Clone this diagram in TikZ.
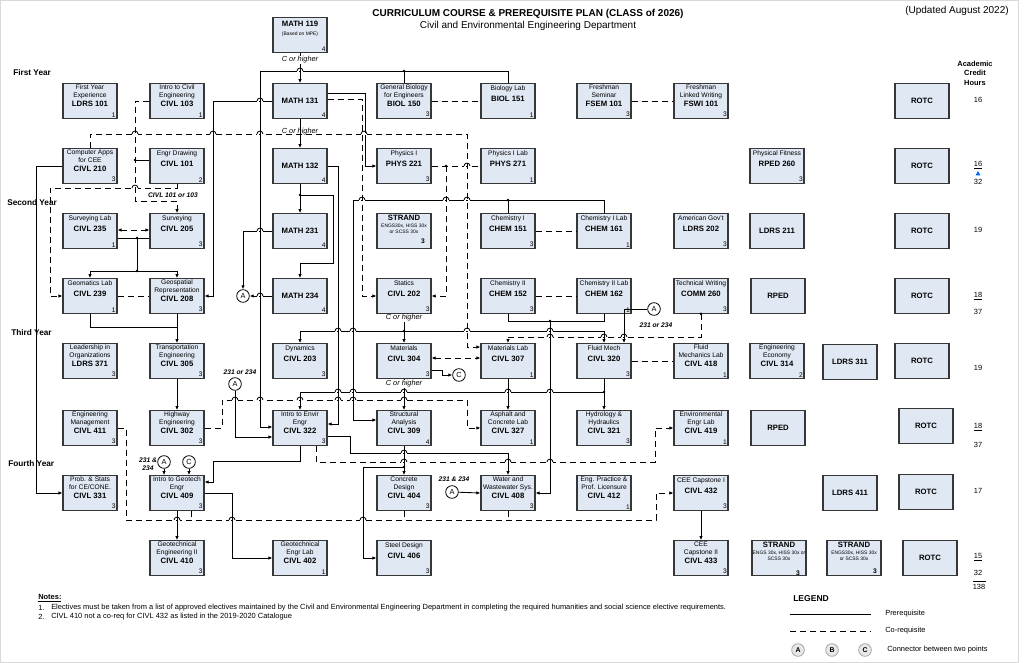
\documentclass[tikz,border=0pt]{standalone}
\usepackage{fontspec}
\setmainfont{Liberation Sans}
\usetikzlibrary{arrows.meta,calc}
\definecolor{boxfill}{RGB}{224,232,243}
\definecolor{boxline}{RGB}{55,55,55}
\newcommand\codef{\bfseries\fontsize{5.8}{6.4}\selectfont}
\newcommand\descf{\fontsize{5}{6.4}\selectfont}
\newcommand\tinyf{\fontsize{3.7}{4.4}\selectfont}
\tikzset{
 box/.style={draw=boxline,fill=boxfill,line width=0.85pt,minimum width=40.5pt,minimum height=26pt,inner sep=0pt},
 txt/.style={align=center,inner sep=0pt,font=\descf},
 cred/.style={anchor=south east,inner sep=1.2pt,font=\fontsize{5}{5}\selectfont},
 pre/.style={line width=0.65pt},
 co/.style={line width=0.65pt,dash pattern=on 4.5pt off 3pt},
 ar/.style={-{Latex[length=3pt,width=2.6pt]}},
 dar/.style={{Latex[length=3pt,width=2.6pt]}-{Latex[length=3pt,width=2.6pt]}},
 cor/.style={font=\itshape\fontsize{5.5}{6}\selectfont,inner sep=0.6pt},
 ornum/.style={font=\bfseries\itshape\fontsize{5}{5.6}\selectfont,inner sep=0.5pt,align=center},
 conn/.style={circle,draw,fill=white,line width=0.6pt,minimum size=9.5pt,inner sep=0pt,font=\fontsize{5.5}{6}\selectfont},
 lconn/.style={circle,draw=gray!70,fill=gray!18,line width=0.6pt,minimum size=9.5pt,inner sep=0pt,font=\bfseries\fontsize{5.2}{6}\selectfont},
 hrs/.style={font=\fontsize{5.6}{6}\selectfont,inner sep=0.5pt},
 yr/.style={font=\bfseries\fontsize{6.2}{7}\selectfont,anchor=west,inner sep=0pt},
 note/.style={font=\fontsize{5.6}{6.5}\selectfont,anchor=west,inner sep=0pt}
}
\newcommand\jdot[1]{\fill (#1) circle (1.1pt);}
% line jump: a horizontal line at y=#2 hops over a vertical line at x=#1
\newcommand\hh[2]{\fill[white] (#1-3.2,#2-1.1) rectangle (#1-0.6,#2+1.1);\fill[white] (#1+0.6,#2-1.1) rectangle (#1+3.2,#2+1.1);\draw[line width=0.6pt] (#1-3,#2) .. controls (#1-3,#2-3.8) and (#1+3,#2-3.8) .. (#1+3,#2);}
\newcommand\crsIII[7]{\node[box] (#1) at (#2,#3) {};\node[txt,anchor=north] at ([yshift=-0.8pt]#1.north) {#4\\#5\\{\codef #6}};\node[cred] at (#1.south east) {#7};}
\newcommand\crsII[6]{\node[box] (#1) at (#2,#3) {};\node[txt,anchor=north] at ([yshift=-1.6pt]#1.north) {#4\\[2.2pt]{\codef #5}};\node[cred] at (#1.south east) {#6};}
\newcommand\crsI[5]{\node[box] (#1) at (#2,#3) {};\node[txt] at (#1.center) {\codef #4};\node[cred] at (#1.south east) {#5};}
\begin{document}
\begin{tikzpicture}[x=0.75pt,y=-0.75pt]
\useasboundingbox (0,0) rectangle (1024,663);
\draw[gray!30,line width=0.6pt] (0.5,0.5) rectangle (1018,662);
% titles
\node[font=\bfseries\fontsize{7.5}{8}\selectfont] at (528,14) {CURRICULUM COURSE \& PREREQUISITE PLAN (CLASS of 2026)};
\node[font=\fontsize{7.5}{8}\selectfont] at (528,26) {Civil and Environmental Engineering Department};
\node[font=\fontsize{7.5}{8}\selectfont] at (957,11) {(Updated August 2022)};
\node[font=\bfseries\fontsize{5.6}{7}\selectfont,align=center] at (975,73) {Academic\\Credit\\Hours};
\node[yr] at (13,73) {First Year};
\node[yr] at (7,203) {Second Year};
\node[yr] at (11,333) {Third Year};
\node[yr] at (8,464) {Fourth Year};
% ---------- coordinates ----------
\coordinate (bar) at (260,71);
\coordinate (jb) at (404,71);
\coordinate (j132) at (300,195);
\coordinate (jch) at (508,200);
\coordinate (jst) at (404,331);
\coordinate (jch2) at (550,321);
\coordinate (j320) at (604,392);
\coordinate (j309) at (404,467);
\coordinate (jsv) at (137,238);
\coordinate (jsv2) at (137,271);
\coordinate (jp) at (446,166);
\coordinate (j101) at (135,160);
% ---------- nodes ----------
\node[box] (m119) at (300,35) {};
\node[txt,anchor=north] at ([yshift=-3pt]m119.north) {{\codef MATH 119}\\[0.2pt]{\tinyf (Based on MPE)}};
\node[cred] at (m119.south east) {4};
% row 1
\crsIII{ldrs101}{90}{101}{First Year}{Experience}{LDRS 101}{1}
\crsIII{c103}{177}{101}{Intro to Civil}{Engineering}{CIVL 103}{1}
\crsI{m131}{300}{101}{MATH 131}{4}
\crsIII{b150}{404}{101}{General Biology}{for Engineers}{BIOL 150}{3}
\crsII{b151}{508}{101}{Biology Lab}{BIOL 151}{1}
\crsIII{fsem}{604}{101}{Freshman}{Seminar}{FSEM 101}{3}
\crsIII{fswi}{701}{101}{Freshman}{Linked Writing}{FSWI 101}{3}
\crsI{rotc1}{922}{101}{ROTC}{}
% row 2
\crsIII{c210}{90}{166}{Computer Apps}{for CEE}{CIVL 210}{3}
\crsII{c101}{177}{166}{Engr Drawing}{CIVL 101}{2}
\crsI{m132}{300}{166}{MATH 132}{4}
\crsII{p221}{404}{166}{Physics I}{PHYS 221}{3}
\crsII{p271}{508}{166}{Physics I Lab}{PHYS 271}{1}
\crsII{rped260}{777}{166}{Physical Fitness}{RPED 260}{3}
\crsI{rotc2}{922}{166}{ROTC}{}
% row 3
\crsII{c235}{90}{231}{Surveying Lab}{CIVL 235}{1}
\crsII{c205}{177}{231}{Surveying}{CIVL 205}{3}
\crsI{m231}{300}{231}{MATH 231}{4}
\node[box] (s1) at (404,231) {};
\node[txt,anchor=north] at ([yshift=-1.2pt]s1.north) {{\codef STRAND}\\[-1.4pt]{\tinyf ENGS30x, HISS 30x}\\[-1.4pt]{\tinyf or SCSS 30x}};
\node[font=\bfseries\fontsize{5}{5}\selectfont] at (423,241) {3};
\crsII{ch151}{508}{231}{Chemistry I}{CHEM 151}{3}
\crsII{ch161}{604}{231}{Chemistry I Lab}{CHEM 161}{1}
\crsII{ldrs202}{701}{231}{American Gov't}{LDRS 202}{3}
\crsI{ldrs211}{777}{231}{LDRS 211}{}
\crsI{rotc3}{922}{231}{ROTC}{}
% row 4
\crsII{c239}{90}{296}{Geomatics Lab}{CIVL 239}{1}
\crsIII{c208}{177}{296}{Geospatial}{Representation}{CIVL 208}{3}
\crsI{m234}{300}{296}{MATH 234}{4}
\crsII{c202}{404}{296}{Statics}{CIVL 202}{3}
\crsII{ch152}{508}{296}{Chemistry II}{CHEM 152}{3}
\crsII{ch162}{604}{296}{Chemistry II Lab}{CHEM 162}{1}
\crsII{comm260}{701}{296}{Technical Writing}{COMM 260}{3}
\crsI{rped4}{778}{296}{RPED}{}
\crsI{rotc4}{922}{296}{ROTC}{}
% row 5
\crsIII{ldrs371}{90}{361}{Leadership in}{Organizations}{LDRS 371}{3}
\crsIII{c305}{177}{361}{Transportation}{Engineering}{CIVL 305}{3}
\crsII{c203}{300}{361}{Dynamics}{CIVL 203}{3}
\crsII{c304}{404}{361}{Materials}{CIVL 304}{3}
\crsII{c307}{508}{361}{Materials Lab}{CIVL 307}{1}
\crsII{c320}{604}{361}{Fluid Mech}{CIVL 320}{3}
\crsIII{c418}{701}{361}{Fluid}{Mechanics Lab}{CIVL 418}{1}
\crsIII{c314}{777}{361}{Engineering}{Economy}{CIVL 314}{2}
\crsI{ldrs311}{850}{362}{LDRS 311}{}
\crsI{rotc5}{922}{361}{ROTC}{}
% row 6
\crsIII{c411}{90}{428}{Engineering}{Management}{CIVL 411}{3}
\crsIII{c302}{177}{428}{Highway}{Engineering}{CIVL 302}{3}
\crsIII{c322}{300}{428}{Intro to Envir}{Engr}{CIVL 322}{3}
\crsIII{c309}{404}{428}{Structural}{Analysis}{CIVL 309}{4}
\crsIII{c327}{508}{428}{Asphalt and}{Concrete Lab}{CIVL 327}{1}
\crsIII{c321}{604}{428}{Hydrology \&}{Hydraulics}{CIVL 321}{3}
\crsIII{c419}{701}{428}{Environmental}{Engr Lab}{CIVL 419}{1}
\crsI{rped6}{778}{428}{RPED}{}
\crsI{rotc6}{926}{426}{ROTC}{}
% row 7
\crsIII{c331}{90}{493}{Prob. \& Stats}{for CE/CONE.}{CIVL 331}{3}
\crsIII{c409}{177}{493}{Intro to Geotech}{Engr}{CIVL 409}{3}
\crsIII{c404}{404}{493}{Concrete}{Design}{CIVL 404}{3}
\crsIII{c408}{508}{493}{Water and}{Wastewater Sys.}{CIVL 408}{3}
\crsIII{c412}{604}{493}{Eng. Practice \&}{Prof. Licensure}{CIVL 412}{1}
\crsII{c432}{701}{493}{CEE Capstone I}{CIVL 432}{3}
\crsI{ldrs411}{850}{493}{LDRS 411}{}
\crsI{rotc7}{926}{492}{ROTC}{}
% row 8
\crsIII{c410}{177}{558}{Geotechnical}{Engineering II}{CIVL 410}{3}
\crsIII{c402}{300}{558}{Geotechnical}{Engr Lab}{CIVL 402}{1}
\crsII{c406}{404}{558}{Steel Design}{CIVL 406}{3}
\crsIII{c433}{701}{558}{CEE}{Capstone II}{CIVL 433}{3}
\node[box] (s2) at (779,558) {};
\node[txt,anchor=north] at ([yshift=-1.2pt]s2.north) {{\codef STRAND}\\[-1.4pt]{\tinyf ENGS 30x, HISS 30x or}\\[-1.4pt]{\tinyf SCSS 30x}};
\node[font=\bfseries\fontsize{5}{5}\selectfont] at (798,573) {3};
\node[box] (s3) at (854,558) {};
\node[txt,anchor=north] at ([yshift=-1.2pt]s3.north) {{\codef STRAND}\\[-1.4pt]{\tinyf ENGS30x, HISS 30x}\\[-1.4pt]{\tinyf or SCSS 30x}};
\node[font=\bfseries\fontsize{5}{5}\selectfont] at (875,571) {3};
\crsI{rotc8}{930}{558}{ROTC}{}
% connector circles
\node[conn] (a1) at (243,296) {A};
\node[conn] (a2) at (654,309) {A};
\node[conn] (cc1) at (459,375) {C};
\node[conn] (a3) at (235,384) {A};
\node[conn] (a4) at (164,462) {A};
\node[conn] (cc2) at (189,462) {C};
\node[conn] (a5) at (452,492) {A};
\node[ornum] at (656,325) {231 or 234};
\node[ornum] at (240,372) {231 or 234};
\node[ornum] at (454,479) {231 \& 234};
\node[ornum] at (148,464) {231 \&\\234};
\node[ornum] at (173,195) {CIVL 101 or 103};
% ---------- prerequisite (solid) ----------
\draw[pre,ar] (m119.south) -- (m131.north);
\node[cor,fill=white] at (300,60) {C or higher};
\draw[pre,ar] (b151.north) |- (bar) |- ($(c322.west)+(0,-1)$);
\draw[pre] (b150.north) -- (jb); \jdot{jb}
\draw[pre,ar] (m131.west) -| (213,296) -- (c208.east);
\draw[pre,ar] (m131) -- (m132);
\draw[pre,ar] ($(m131.east)+(0,-8)$) -| (365,166) -- (p221.west);
\draw[pre,ar] (m132) -- (m231); \jdot{j132}
\draw[pre,ar] (j132) -| (333,263) -| (m234.north);
\draw[pre,ar] (m132.east) -| (338,424) -- ($(c322.east)+(0,-4)$);
\draw[pre] (ch161.north) |- (jch);
\draw[pre] (ch151.north) -- (jch); \jdot{jch}
\draw[pre,ar] (jch) -| (353,420) -- ($(c309.west)+(0,-8)$);
\draw[pre,ar] (m231.west) -| (a1.north);
\draw[pre,ar] (m234.west) -- (a1.east);
\draw[pre,ar] (c202) -- (c304);
\node[cor,fill=white] at (404,318) {C or higher};
\jdot{jst}
\draw[pre,ar] (jst) -| (c203.north);
\draw[pre,ar] (jst) -| (c320.north);
\draw[pre,ar] (a2.west) -| ($(c320.north)+(20,0)$);
\draw[pre,ar] (c320) -- (c321); \jdot{j320}
\draw[pre,ar] (j320) -| (c322.north);
\draw[pre,ar] (c307) -- (c327);
\draw[pre] (ch152.south) |- (jch2);
\draw[pre] (ch162.south) |- (jch2); \jdot{jch2}
\draw[pre,ar] (jch2) |- (c408.east);
\draw[pre,ar] (c304) -- (c309);
\node[cor,fill=white] at (404,384) {C or higher};
\draw[pre,ar] ($(c304.east)+(0,9)$) -| (442,375) -- (cc1.west);
\draw[pre,ar] ($(c322.east)+(0,8)$) -| (350,453) -| (c408.north);
\draw[pre,ar] (c322.south) |- (213,461) |- ($(c409.east)+(0,-11)$);
\draw[pre,ar] (c409.east) -| (232,558) -- (c402.west);
\draw[pre,ar] (c409) -- (c410);
\draw[pre,ar] (a4.south) -- (a4.south |- c409.north);
\draw[pre,ar] (cc2.south) -- (cc2.south |- c409.north);
\draw[pre,ar] (a3.south) |- ($(c322.west)+(0,9)$);
\draw[pre,ar] (c309) -- (c404); \jdot{j309}
\draw[pre,ar] (j309) -| (363,558) -- (c406.west);
\draw[pre,ar] (a5) -- (c408.west);
\draw[pre,ar] (c432) -- (c433);
\draw[pre,ar] (c305) -- (c302);
\draw[pre,ar] (c208) -- (c305);
\draw[pre] (c239.south) |- (177,327);
\draw[pre] ($(c235.east)+(0,7)$) -- ($(c205.west)+(0,7)$);
\draw[pre] (jsv) -- (jsv2); \jdot{jsv} \jdot{jsv2}
\draw[pre,ar] (jsv2) -| (c239.north);
\draw[pre,ar] (jsv2) -| (c208.north);
\draw[pre,ar] (c210.west) -| (36,493) -- (c331.west);
\draw[pre] ($(c101.west)+(0,-6)$) -- (j101); \jdot{j101}
% ---------- co-requisite (dashed) ----------
\draw[co] (b150) -- (b151);
\draw[co] (fsem) -- (fswi);
\draw[co,ar] (c210.north) |- (467,134) |- ($(c307.west)+(0,-14)$);
\node[cor] at (300,132) {C or higher};
\draw[co,ar] ($(m131.east)+(0,-2)$) -| (362,296) -- (c202.west);
\draw[co] (p221) -- (p271); \jdot{jp}
\draw[co,ar] (jp) |- (c202.east);
\draw[co,ar] (c103.west) -| (135,201) -| (c205.north);
\draw[co,ar] (c101.south) |- (50,188) |- (c239.west);
\draw[co,dar] ($(c235.east)+(0,-1)$) -- ($(c205.west)+(0,-1)$);
\draw[co] (c239) -- (c208);
\draw[co] (ch151) -- (ch161);
\draw[co] (ch152) -- (ch162);
\draw[co,ar] (comm260.south) |- (508,337) -- (c307.north); \jdot{comm260.south}
\draw[co,dar] ($(c304.east)+(0,-3)$) -- ($(c307.west)+(0,-3)$);
\draw[co] (c320) -- (c418);
\draw[co,ar] (c302.east) -| (222,400) -| (467,428) -- (c327.west);
\draw[co,ar] ($(c322.south)+(16,0)$) |- (655,462) |- (c419.west);
\draw[co,ar] (c411.east) -| (126,520) -| (656,493) -- (c432.west);
\draw[co] ($(c409.south)+(14,0)$) -- (191,520);
\draw[co] (c404.south) -- (404,520);
\draw[co] (c408.south) -- (508,520);
% ---------- line jumps ----------
\hh{300}{71}
\hh{260}{101}
\hh{135}{134}\hh{213}{134}\hh{260}{134}\hh{364}{134}
\hh{467}{166}
\hh{135}{188}
\hh{362}{200}\hh{446}{200}\hh{467}{200}
\hh{260}{231}\hh{260}{296}
\hh{338}{331}\hh{353}{331}\hh{467}{331}\hh{550}{331}
\hh{550}{337}\hh{604}{337}\hh{624}{337}
\hh{338}{392}\hh{353}{392}\hh{404}{392}\hh{508}{392}\hh{550}{392}
\hh{235}{400}\hh{260}{400}\hh{300}{400}\hh{338}{400}\hh{353}{400}\hh{404}{400}
\hh{404}{453}
\hh{404}{462}\hh{508}{462}\hh{550}{462}
\hh{177}{520}\hh{232}{520}\hh{363}{520}
% ---------- credit hours ----------
\node[hrs] at (978,100) {16};
\node[hrs] at (978,165) {\underline{16}};
\fill[blue!60!cyan] (975.5,175.5) -- (980.5,175.5) -- (978,171) -- cycle;
\node[hrs] at (978,182) {32};
\node[hrs] at (978,230) {19};
\node[hrs] at (978,296) {\underline{18}};
\node[hrs] at (978,312) {37};
\node[hrs] at (978,368) {19};
\node[hrs] at (978,427) {\underline{18}};
\node[hrs] at (978,445) {37};
\node[hrs] at (978,491) {17};
\node[hrs] at (978,557) {\underline{15}};
\node[hrs] at (978,573) {32};
\draw[line width=0.4pt] (973,581) -- (986,581);
\node[hrs] at (979,587) {138};
% ---------- notes ----------
\node[note,font=\bfseries\fontsize{5.6}{6.5}\selectfont] at (38,598) {\underline{Notes:}};
\node[note] at (38,608) {1.};
\node[note] at (51,608) {Electives must be taken from a list of approved electives maintained by the Civil and Environmental Engineering Department in completing the required humanities and social science elective requirements.};
\node[note] at (38,617) {2.};
\node[note] at (51,617) {CIVL 410 not a co-req for CIVL 432 as listed in the 2019-2020 Catalogue};
% ---------- legend ----------
\node[note,font=\bfseries\fontsize{6.4}{7}\selectfont] at (793,599) {LEGEND};
\coordinate (lg1) at (790,614); \coordinate (lg2) at (871,614);
\draw[pre] (lg1) -- (lg2);
\node[note] at (885,614) {Prerequisite};
\coordinate (lg3) at (790,631); \coordinate (lg4) at (871,631);
\draw[co] (lg3) -- (lg4);
\node[note] at (885,631) {Co-requisite};
\node[lconn] at (798,650) {A};
\node[lconn] at (832,650) {B};
\node[lconn] at (865,650) {C};
\node[note] at (887,650) {Connector between two points};
\end{tikzpicture}
\end{document}
